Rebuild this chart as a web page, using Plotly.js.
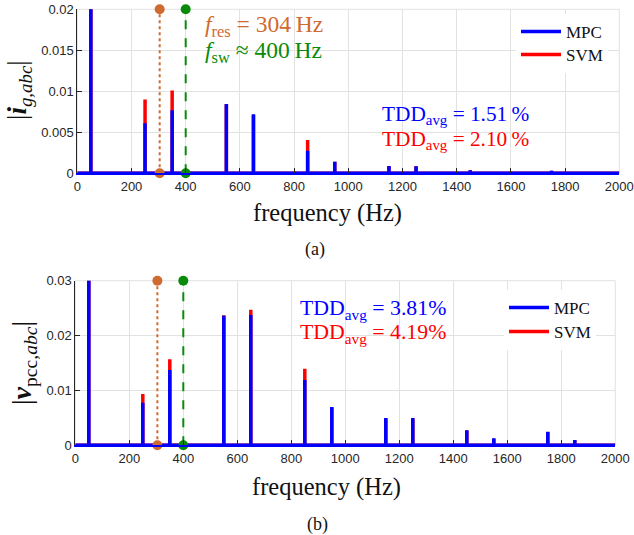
<!DOCTYPE html>
<html><head><meta charset="utf-8">
<script src="https://cdn.plot.ly/plotly-3.0.1.min.js"></script>
<style>html,body{margin:0;padding:0;background:#fff}</style>
</head><body><div id="chart"></div>
<script>
// ---- data ----
const freqs = [50, 250, 350, 550, 650, 850, 950, 1150, 1250, 1450, 1550, 1750, 1850];
const igMPC = [1.0, 0.0061, 0.0077, 0.00845, 0.0072, 0.00276, 0.00142, 0.00089, 0.00087, 0.00037, 0.0002, 0.0003, 0.00015];
const igSVM = [1.0, 0.0090, 0.0101, 0.0084, 0.0071, 0.00406, 0.0014, 0.00088, 0.00086, 0.00036, 0.0002, 0.0003, 0.00015];
const vMPC = [1.0, 0.00777, 0.01372, 0.0236, 0.02375, 0.0119, 0.00698, 0.00497, 0.00499, 0.00273, 0.00127, 0.00248, 0.00097];
const vSVM = [1.0, 0.00935, 0.01567, 0.0237, 0.02472, 0.01397, 0.0069, 0.0049, 0.0049, 0.0027, 0.0012, 0.0024, 0.0009];
const fRes = 304;
const fSw = 400;
const xRange = [0, 2000];
const yRangeTop = [0, 0.02];
const yRangeBot = [0, 0.03];
const xTicks = [0, 200, 400, 600, 800, 1000, 1200, 1400, 1600, 1800, 2000];
const yTicksTop = [0, 0.005, 0.01, 0.015, 0.02];
const yTickTextTop = ['0', '0.005', '0.01', '0.015', '0.02'];
const yTicksBot = [0, 0.01, 0.02, 0.03];
const yTickTextBot = ['0', '0.01', '0.02', '0.03'];

// build stem paths from data
function stems(f, a) {
  const x = [xRange[0]], y = [0];
  for (let i = 0; i < f.length; i++) { x.push(f[i], f[i], f[i]); y.push(0, a[i], 0); }
  x.push(xRange[1]); y.push(0);
  return {x, y};
}

const BLUE = '#0000ff', RED = '#ff0000', ORANGE = '#cf6a30', GREEN = '#0a8a0a';
const serif = 'Liberation Serif';
const sans = 'Liberation Sans';
const TS = '\u2009';

function specTrace(f, a, name, color, xa, ya, leg) {
  const s = stems(f, a);
  return {x: s.x, y: s.y, type: 'scatter', mode: 'lines', name: name, xaxis: xa, yaxis: ya,
    legend: leg, line: {color: color, width: 3.5}, hoverinfo: 'skip'};
}
function vline(x0, yr, color, dash, xa, ya) {
  return {x: [x0, x0], y: [yr[0], yr[1]], type: 'scatter', mode: 'lines+markers', xaxis: xa, yaxis: ya,
    showlegend: false, cliponaxis: false, line: {color: color, width: 2, dash: dash},
    marker: {color: color, size: 10}, hoverinfo: 'skip'};
}

const data = [
  specTrace(freqs, igSVM, 'SVM', RED, 'x', 'y', 'legend'),
  specTrace(freqs, igMPC, 'MPC', BLUE, 'x', 'y', 'legend2'),
  vline(fRes, yRangeTop, ORANGE, 'dot', 'x', 'y'),
  vline(fSw, yRangeTop, GREEN, 'dash', 'x', 'y'),
  specTrace(freqs, vSVM, 'SVM', RED, 'x2', 'y2', 'legend4'),
  specTrace(freqs, vMPC, 'MPC', BLUE, 'x2', 'y2', 'legend3'),
  vline(fRes, yRangeBot, ORANGE, 'dot', 'x2', 'y2'),
  vline(fSw, yRangeBot, GREEN, 'dash', 'x2', 'y2')
];

const W = 634, H = 535;
const px = v => v / W, py = v => 1 - v / H;

const xaxBase = {range: xRange, tickvals: xTicks, ticks: 'inside', ticklen: 5, tickcolor: '#262626',
  showline: true, linecolor: BLUE, linewidth: 2, showgrid: true, gridcolor: '#e2e2e2', zeroline: false,
  tickfont: {family: sans, size: 13, color: '#262626'}, fixedrange: true};
const yaxBase = {ticks: 'inside', ticklen: 5, tickcolor: '#262626', showline: true, linecolor: '#262626',
  linewidth: 1, showgrid: true, gridcolor: '#e2e2e2', zeroline: false,
  tickfont: {family: sans, size: 13, color: '#262626'}, fixedrange: true};

function ann(x, y, text, size, color, xanchor, extra) {
  return Object.assign({xref: 'paper', yref: 'paper', x: px(x), y: py(y), text: text, showarrow: false,
    xanchor: xanchor, yanchor: 'middle', font: {family: serif, size: size, color: color}}, extra || {});
}
function frame(xa, ya) {
  return {type: 'rect', xref: xa + ' domain', yref: ya + ' domain', x0: 0, x1: 1, y0: 0, y1: 1,
    line: {color: '#e2e2e2', width: 1}, layer: 'below'};
}
function leg(x, yTop) {
  return {x: px(x), y: py(yTop), xanchor: 'left', yanchor: 'top', bgcolor: '#fff', borderwidth: 0,
    font: {family: serif, size: 17, color: '#111'}, itemwidth: 40};
}

const layout = {
  width: W, height: H, margin: {l: 0, r: 0, t: 0, b: 0}, paper_bgcolor: '#fff', plot_bgcolor: '#fff',
  showlegend: true,
  xaxis: Object.assign({}, xaxBase, {domain: [px(77.3), px(619.3)], anchor: 'y'}),
  yaxis: Object.assign({}, yaxBase, {domain: [py(173.3), py(9.3)], range: yRangeTop, tickvals: yTicksTop, ticktext: yTickTextTop, anchor: 'x'}),
  xaxis2: Object.assign({}, xaxBase, {domain: [px(75.3), px(615.3)], anchor: 'y2'}),
  yaxis2: Object.assign({}, yaxBase, {domain: [py(445.3), py(280.7)], range: yRangeBot, tickvals: yTicksBot, ticktext: yTickTextBot, anchor: 'x2'}),
  shapes: [frame('x', 'y'), frame('x2', 'y2')],
  legend: leg(516, 37),
  legend2: leg(516, 14),
  legend3: leg(504, 290),
  legend4: leg(504, 314),
  annotations: [
    ann(203, 26, '<i>f</i><sub>res</sub> = 304' + TS + 'Hz', 23.5, ORANGE, 'left'),
    ann(203, 52, '<i>f</i><sub>sw</sub> ≈ 400' + TS + 'Hz', 23.5, GREEN, 'left'),
    ann(380, 115, 'TDD<sub>avg</sub> = 1.51' + TS + '%', 21.3, BLUE, 'left'),
    ann(380, 140, 'TDD<sub>avg</sub> = 2.10' + TS + '%', 21.3, RED, 'left'),
    ann(298, 309, 'TDD<sub>avg</sub> = 3.81%', 21.8, BLUE, 'left'),
    ann(298, 333, 'TDD<sub>avg</sub> = 4.19%', 21.8, RED, 'left'),
    ann(327, 213, 'frequency (Hz)', 24.5, '#111', 'center'),
    ann(326, 487, 'frequency (Hz)', 24.5, '#111', 'center'),
    ann(315, 249, '(a)', 18, '#111', 'center'),
    ann(317, 524, '(b)', 18, '#111', 'center'),
    ann(19, 90, '|<b><i>i</i></b><sub><i>g,abc</i></sub>|', 27, '#111', 'center', {textangle: -90}),
    ann(23, 363, '|<b><i>v</i></b><sub>pcc,<i>abc</i></sub>|', 28, '#111', 'center', {textangle: -90})
  ]
};

Plotly.newPlot('chart', data, layout, {displayModeBar: false});
</script></body></html>
